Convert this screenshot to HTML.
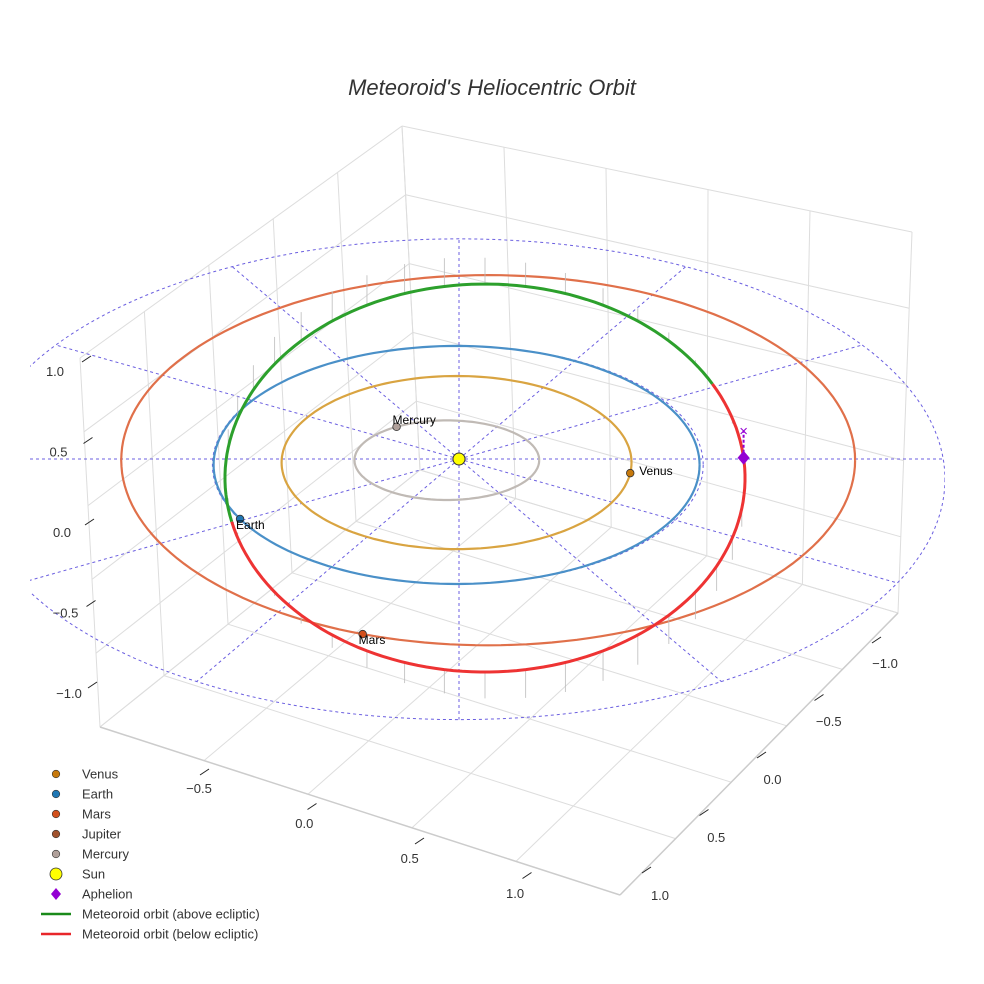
<!DOCTYPE html>
<html><head><meta charset="utf-8"><style>
html,body{margin:0;padding:0;background:#fff;}
svg{display:block;font-family:"Liberation Sans",sans-serif;}
</style></head><body>
<svg id="chart" width="984" height="984" viewBox="0 0 984 984">
<rect width="984" height="984" fill="#fff"/>
<text x="492" y="95" text-anchor="middle" font-size="22" font-style="italic" fill="#333">Meteoroid's Heliocentric Orbit</text>
<g id="box"></g>
<g id="grid"></g>
<g id="orbits"></g>
<g id="marks"></g>
<g id="ticks"></g>
<g id="legend"></g>
</svg>
<script>
// ---- data ----
const planetNames = ["Mercury","Venus","Earth","Mars"];
const planetA = [0.38, 0.72, 1.0, 1.51];       // semi-major axis (AU, projected)
const planetBratio = [0.88, 1.01, 1.0, 1.03];   // minor/major in projected units
const planetCx = [-0.05, -0.01, -0.01, 0.12];   // orbit centre offset x (AU)
const planetCy = [0.01, 0.03, 0.05, 0.01];      // orbit centre offset y (AU)
const planetAngle = [-123, 7, 153, 110];        // current position angle (deg)
const planetColors = ["#c0bab5", "#d9a441", "#4a90c8", "#e0704a"];
const planetDot = ["#b0a09a", "#c7790c", "#1f77b4", "#d2501c"];
const meteorA = 1.07, meteorB = 1.63, meteorCx = 0.107, meteorCy = 0.16;
const meteorSplit = [167, 331];                 // above-ecliptic arc (deg)
const aphelionAngle = 354;
const gridRadius = 2.0;
const gridRays = [0,30,60,90,120,150,180,210,240,270,300,330];
const zTicks = ["1.0","0.5","0.0","−0.5","−1.0"];
const zVals = [1,0.5,0,-0.5,-1];
const xTicks = ["−0.5","0.0","0.5","1.0"];
const xVals = [-0.5,0,0.5,1];
const yTicks = ["−1.0","−0.5","0.0","0.5","1.0"];
const yVals = [-1,-0.5,0,0.5,1];
const legendLabels = ["Venus","Earth","Mars","Jupiter","Mercury","Sun","Aphelion","Meteoroid orbit (above ecliptic)","Meteoroid orbit (below ecliptic)"];
const legendColors = ["#c7790c","#1f77b4","#d2501c","#a0522d","#b0a09a","#ffff00","#9400d3","#1a8a1a","#e8262a"];

// ---- projection ----
const CX = 459, CY = 459, KX = 243, KY = 119;
const sx = X => CX + KX * X;
const sy = Y => CY + KY * Y;
const NS = "http://www.w3.org/2000/svg";
function mk(tag, attrs, parent){const e=document.createElementNS(NS,tag);for(const k in attrs)e.setAttribute(k,attrs[k]);parent.appendChild(e);return e;}
function ellPts(cx, cy, a, b, t0, t1){let p=[];for(let t=t0;t<=t1+0.001;t+=2){const r=t*Math.PI/180;p.push(sx(cx+a*Math.cos(r)).toFixed(1)+","+sy(cy+b*Math.sin(r)).toFixed(1));}return p.join(" ");}

// ---- 3D box (bilinear faces) ----
const box = document.getElementById("box");
const F=[620,895], L=[100,727], R=[898,613], B=[420,470];
const Lt=[80,358], Rt=[912,232], Bt=[402,126];
function bil(p00,p10,p01,p11,u,v){return [
  (1-u)*(1-v)*p00[0]+u*(1-v)*p10[0]+(1-u)*v*p01[0]+u*v*p11[0],
  (1-u)*(1-v)*p00[1]+u*(1-v)*p10[1]+(1-u)*v*p01[1]+u*v*p11[1]];}
function line(a,b,col,w,name){const l=mk("line",{x1:a[0],y1:a[1],x2:b[0],y2:b[1],stroke:col,"stroke-width":w},box);}
function face(p00,p10,p01,p11,name){
  for(let i=0;i<=5;i++){const f=i/5;
    line(bil(p00,p10,p01,p11,f,0),bil(p00,p10,p01,p11,f,1),"#ddd",1,name);
    line(bil(p00,p10,p01,p11,0,f),bil(p00,p10,p01,p11,1,f),"#ddd",1,name);}}
face(B,R,L,F,"floor-grid");
face(B,R,Bt,Rt,"back-wall-grid");
face(B,L,Bt,Lt,"side-wall-grid");
line(L,F,"#ccc",1.5,"box-edge");line(F,R,"#ccc",1.5,"box-edge");

// ---- ecliptic grid ----
const grid = document.getElementById("grid");
const clip = mk("clipPath",{id:"pc"},grid); mk("rect",{x:30,y:0,width:915,height:984},clip);
const gg = mk("g",{"clip-path":"url(#pc)"},grid);
const ringCy = 0.17, ringKy = 1.01;
const ring = mk("polyline",{points:ellPts(0,ringCy,gridRadius,gridRadius*ringKy,0,360),fill:"none",stroke:"#6b5fe0","stroke-width":1,"stroke-dasharray":"3,3"},gg);

const ring1 = mk("polyline",{points:ellPts(-0.005,0.05,1.01,1.0,0,360),fill:"none",stroke:"#6b5fe0","stroke-width":1,"stroke-dasharray":"3,3"},gg);

gridRays.forEach(d=>{const r=d*Math.PI/180;
  const dx=Math.cos(r), dy=Math.sin(r);
  const a=gridRadius, b=gridRadius*ringKy;
  const A=dx*dx/(a*a)+dy*dy/(b*b), Bq=-2*ringCy*dy/(b*b), C=ringCy*ringCy/(b*b)-1;
  const t=(-Bq+Math.sqrt(Bq*Bq-4*A*C))/(2*A);
  const l=mk("line",{x1:sx(0),y1:sy(0),x2:sx(t*dx),y2:sy(t*dy),stroke:"#6b5fe0","stroke-width":1,"stroke-dasharray":"3,3"},gg);
  });

// ---- orbits ----
const orb = document.getElementById("orbits");
planetNames.forEach((n,i)=>{
  const a=planetA[i], b=planetA[i]*planetBratio[i];
  const p=mk("polyline",{points:ellPts(planetCx[i],planetCy[i],a,b,0,360),fill:"none",stroke:planetColors[i],"stroke-width":2.2},orb);
  
});
for(let t=0;t<360;t+=9){const r=t*Math.PI/180;
  const X=meteorCx+meteorA*Math.cos(r), Y=meteorCy+meteorB*Math.sin(r);
  const h=30*Math.sin(r+0.5);
  const l=mk("line",{x1:sx(X),y1:sy(Y),x2:sx(X),y2:sy(Y)+h,stroke:"#bbb","stroke-width":0.8},orb);
  }
const g1=mk("polyline",{points:ellPts(meteorCx,meteorCy,meteorA,meteorB,meteorSplit[0],meteorSplit[1]),fill:"none",stroke:"#2ca02c","stroke-width":3},orb);

const r1=mk("polyline",{points:ellPts(meteorCx,meteorCy,meteorA,meteorB,meteorSplit[1],meteorSplit[0]+360),fill:"none",stroke:"#ee3333","stroke-width":3},orb);


// ---- markers ----
const mg = document.getElementById("marks");
planetNames.forEach((n,i)=>{
  const a=planetA[i], b=planetA[i]*planetBratio[i], r=planetAngle[i]*Math.PI/180;
  const x=sx(planetCx[i]+a*Math.cos(r)), y=sy(planetCy[i]+b*Math.sin(r));
  const c=mk("circle",{cx:x,cy:y,r:3.8,fill:planetDot[i],stroke:"#333","stroke-width":0.8},mg);
  
  const left = n==="Venus";
  const t=mk("text",{x:left?x+9:x-4,y:left?y+2:(n==="Mercury"?y-3:y+10),"font-size":12,fill:"#000"},mg);
  t.textContent=n;
});
const sun=mk("circle",{cx:sx(0),cy:sy(0),r:6,fill:"#ffff00",stroke:"#333","stroke-width":1},mg);

const ar=aphelionAngle*Math.PI/180, ax=sx(meteorCx+meteorA*Math.cos(ar)), ay=sy(meteorCy+meteorB*Math.sin(ar));
const dl=mk("line",{x1:ax,y1:ay,x2:ax,y2:ay-27,stroke:"#9400d3","stroke-width":2,"stroke-dasharray":"3,2"},mg);

const xm=mk("text",{x:ax,y:ay-22,"text-anchor":"middle","font-size":15,fill:"#9400d3"},mg);xm.textContent="×";

const dm=mk("polygon",{points:`${ax},${ay-7} ${ax+6},${ay} ${ax},${ay+7} ${ax-6},${ay}`,fill:"#9400d3"},mg);


// ---- ticks ----
const tg=document.getElementById("ticks");
function tick(x,y,lab,name,tx,ty){
  const l=mk("line",{x1:tx,y1:ty,x2:tx+9,y2:ty-6,stroke:"#222","stroke-width":1},tg);
  
  const t=mk("text",{x:x,y:y,"text-anchor":"middle","font-size":13,fill:"#333"},tg);t.textContent=lab;
  }
zVals.forEach((v,i)=>tick(62-v*7, 537-v*161, zTicks[i],'z-tick',85-v*3,525-v*163));
xVals.forEach((v,i)=>tick(199+(v+0.5)*210.7, 793+(v+0.5)*70, xTicks[i],'x-tick',200+(v+0.5)*215,775+(v+0.5)*69));
yVals.forEach((v,i)=>tick(885-(v+1)*112.5, 668+(v+1)*116, yTicks[i],'y-tick',872-(v+1)*115,643+(v+1)*115));

// ---- legend ----
const lg=document.getElementById("legend");
legendLabels.forEach((lab,i)=>{
  const y=774+i*20;
  let m;
  if(i<5) m=mk("circle",{cx:56,cy:y,r:3.8,fill:legendColors[i],stroke:"#333","stroke-width":0.6},lg);
  else if(i===5) m=mk("circle",{cx:56,cy:y,r:6,fill:legendColors[i],stroke:"#333","stroke-width":0.8},lg);
  else if(i===6) m=mk("polygon",{points:`56,${y-6} 61,${y} 56,${y+6} 51,${y}`,fill:legendColors[i]},lg);
  else m=mk("line",{x1:41,y1:y,x2:71,y2:y,stroke:legendColors[i],"stroke-width":2.5},lg);
  
  const t=mk("text",{x:82,y:y+4.5,"font-size":13,fill:"#333"},lg);t.textContent=lab;
  
});
</script>
</body></html>
